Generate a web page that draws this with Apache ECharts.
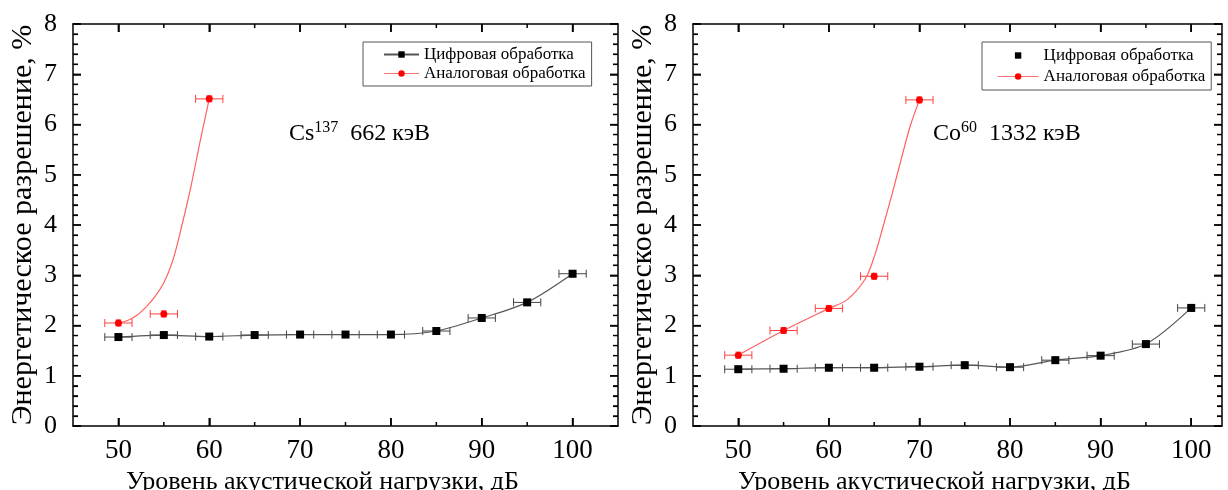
<!DOCTYPE html>
<html>
<head>
<meta charset="utf-8">
<script src="https://cdn.jsdelivr.net/npm/echarts@6/dist/echarts.min.js"></script>
<style>
  html, body { margin: 0; padding: 0; background: #fff; }
  #chart { width: 1228px; height: 490px; background: #fff; }
</style>
</head>
<body>
<div id="chart"></div>
<script>
// уровни акустической нагрузки, дБ
var levels = [50, 55, 60, 65, 70, 75, 80, 85, 90, 95, 100];
var xLabels = [50, 60, 70, 80, 90, 100];
var xMinor = [55, 65, 75, 85, 95];
var yMajor = [0, 1, 2, 3, 4, 5, 6, 7, 8];

// Cs137, 662 кэВ
var csDigital = [1.77, 1.81, 1.78, 1.81, 1.82, 1.82, 1.82, 1.89, 2.15, 2.46, 3.03];
var csAnalogX = [50, 55, 60];
var csAnalog = [2.05, 2.23, 6.51];
// кривая аппроксимации
var csFitX = [50, 51, 52, 53, 54, 55, 56, 57, 58, 59, 60];
var csFit = [2.05, 2.1, 2.2, 2.36, 2.57, 2.85, 3.3, 4.0, 4.78, 5.67, 6.51];

// Co60, 1332 кэВ
var coDigital = [1.13, 1.14, 1.16, 1.16, 1.18, 1.21, 1.17, 1.31, 1.40, 1.63, 2.35];
var coAnalogX = [50, 55, 60, 65, 70];
var coAnalog = [1.41, 1.90, 2.34, 2.98, 6.49];
var coFitX = [50, 55, 60, 62, 64, 65, 66, 67, 68, 69, 70];
var coFit = [1.41, 1.90, 2.34, 2.51, 2.92, 3.36, 3.98, 4.63, 5.32, 5.98, 6.49];

var X_ERR = 1.5;
var Y_ERR = 0.06;
var X_MIN = 45;
var X_MAX = [105, 103.4];

var FONT = '"Liberation Serif", "DejaVu Serif", serif';
var NAME_DIG = 'Цифровая обработка';
var NAME_ANA = 'Аналоговая обработка';

function pairs(xs, ys) {
    return xs.map(function (x, i) { return [x, ys[i]]; });
}

var chart = echarts.init(document.getElementById('chart'));

function xAxisFor(grid, pos) {
    var main = pos === 'bottom';
    return {
        type: 'value', gridIndex: grid, position: pos, min: X_MIN, max: X_MAX[grid],
        axisLine: { show: true, onZero: false, lineStyle: { color: '#000', width: 1.5 } },
        axisTick: { show: true, inside: true, length: 8, customValues: xLabels,
                    lineStyle: { color: '#000', width: 1.5 } },
        axisLabel: { show: main, customValues: xLabels, fontSize: 27, fontFamily: FONT,
                     color: '#000', margin: 11 },
        splitLine: { show: false },
        name: main ? 'Уровень акустической нагрузки, дБ' : '',
        nameLocation: 'middle', nameGap: 35,
        nameTextStyle: { fontSize: 26, fontFamily: FONT, color: '#000', padding: [0, 46, 0, 0] }
    };
}

function yAxisFor(grid, pos) {
    var main = pos === 'left';
    return {
        type: 'value', gridIndex: grid, position: pos, min: 0, max: 8, interval: 1,
        axisLine: { show: true, onZero: false, lineStyle: { color: '#000', width: 1.5 } },
        axisTick: { show: true, inside: true, length: 8, lineStyle: { color: '#000', width: 1.5 } },
        minorTick: { show: true, splitNumber: 5, length: 5, lineStyle: { color: '#000', width: 1.2 } },
        axisLabel: { show: main, fontSize: 26, fontFamily: FONT, color: '#000', margin: 16 },
        splitLine: { show: false },
        name: main ? 'Энергетическое разрешение, %' : '',
        nameLocation: 'middle', nameGap: 35,
        nameTextStyle: { fontSize: 30, fontFamily: FONT, color: '#000' }
    };
}

// засечки внутрь рамки (дублируют засечки осей)
function xTickSeries(gi) {
    return {
        type: 'custom', xAxisIndex: gi, yAxisIndex: gi, silent: true,
        encode: { x: 0, y: 1 },
        data: xLabels.concat(xMinor).map(function (v) { return [v, 4]; }),
        renderItem: function (params, api) {
            var x = api.value(0);
            var len = x % 10 === 0 ? 8 : 4;
            var b = api.coord([x, 0]);
            var t = api.coord([x, 8]);
            var st = { stroke: '#000', lineWidth: 1.5 };
            return {
                type: 'group',
                children: [
                    { type: 'line', shape: { x1: b[0], y1: b[1], x2: b[0], y2: b[1] - len }, style: st },
                    { type: 'line', shape: { x1: t[0], y1: t[1], x2: t[0], y2: t[1] + len }, style: st }
                ]
            };
        }
    };
}

function yTickSeries(gi) {
    return {
        type: 'custom', xAxisIndex: gi, yAxisIndex: gi, silent: true,
        encode: { x: 0, y: 1 },
        data: yMajor.map(function (v) { return [75, v]; }),
        renderItem: function (params, api) {
            var v = api.value(1);
            var st = { stroke: '#000', lineWidth: 1.3 };
            var children = [];
            function add(val, len) {
                var l = api.coord([X_MIN, val]);
                var r = api.coord([X_MAX[gi], val]);
                children.push({ type: 'line', shape: { x1: l[0], y1: l[1], x2: l[0] + len, y2: l[1] }, style: st });
                children.push({ type: 'line', shape: { x1: r[0], y1: r[1], x2: r[0] - len, y2: r[1] }, style: st });
            }
            add(v, 8);
            if (v < 8) {
                for (var k = 1; k < 5; k++) add(v + k * 0.2, 5);
            }
            return { type: 'group', children: children };
        }
    };
}

function errorBars(color) {
    return function (params, api) {
        var x = api.value(0), y = api.value(1);
        var l = api.coord([x - X_ERR, y]);
        var r = api.coord([x + X_ERR, y]);
        var b = api.coord([x, y - Y_ERR]);
        var t = api.coord([x, y + Y_ERR]);
        var st = { stroke: color, lineWidth: 1 };
        return {
            type: 'group',
            children: [
                { type: 'line', shape: { x1: l[0], y1: l[1], x2: r[0], y2: r[1] }, style: st },
                { type: 'line', shape: { x1: l[0], y1: l[1] - 4, x2: l[0], y2: l[1] + 4 }, style: st },
                { type: 'line', shape: { x1: r[0], y1: r[1] - 4, x2: r[0], y2: r[1] + 4 }, style: st },
                { type: 'line', shape: { x1: b[0], y1: b[1], x2: t[0], y2: t[1] }, style: st },
                { type: 'line', shape: { x1: b[0] - 3, y1: b[1], x2: b[0] + 3, y2: b[1] }, style: st },
                { type: 'line', shape: { x1: t[0] - 3, y1: t[1], x2: t[0] + 3, y2: t[1] }, style: st }
            ]
        };
    };
}

function errSeries(gi, data, color) {
    return {
        type: 'custom', xAxisIndex: gi, yAxisIndex: gi, encode: { x: 0, y: 1 },
        renderItem: errorBars(color), data: data, silent: true
    };
}

var legendBase = {
    orient: 'vertical', top: 42, borderColor: '#555', borderWidth: 1,
    itemWidth: 35, itemHeight: 8, itemGap: 2,
    textStyle: { fontSize: 17, fontFamily: FONT, color: '#000' }
};

var richNote = {
    b: { fontSize: 24, fontFamily: FONT, fill: '#000', lineHeight: 26, verticalAlign: 'bottom' },
    s: { fontSize: 16, fontFamily: FONT, fill: '#000', lineHeight: 26, verticalAlign: 'top' }
};

var option = {
    animation: false,
    grid: [
        { left: 73, top: 24, width: 545, height: 402, outerBoundsMode: 'none' },
        { left: 693, top: 24, width: 529, height: 402, outerBoundsMode: 'none' }
    ],
    xAxis: [xAxisFor(0, 'bottom'), xAxisFor(1, 'bottom'), xAxisFor(0, 'top'), xAxisFor(1, 'top')],
    yAxis: [yAxisFor(0, 'left'), yAxisFor(1, 'left'), yAxisFor(0, 'right'), yAxisFor(1, 'right')],
    legend: [
        Object.assign({}, legendBase, {
            left: 363, padding: [4, 6, 4, 20],
            data: [
                { name: NAME_DIG },
                { name: NAME_ANA, lineStyle: { color: '#ff7070', width: 1.2, opacity: 1 } }
            ]
        }),
        Object.assign({}, legendBase, {
            left: 982, padding: [5, 6, 5, 15], itemGap: 4, itemWidth: 41,
            data: [
                { name: NAME_DIG, lineStyle: { opacity: 0, width: 0 } },
                { name: NAME_ANA, lineStyle: { color: '#ff7070', width: 1.2, opacity: 1 } }
            ]
        })
    ],
    graphic: [
        { type: 'text', left: 289, top: 120, style: { text: '{b|Cs}{s|137}{b|  662 кэВ}', rich: richNote } },
        { type: 'text', left: 933, top: 120, style: { text: '{b|Co}{s|60}{b|  1332 кэВ}', rich: richNote } }
    ],
    series: [
        // Cs137
        {
            name: NAME_DIG, type: 'line', xAxisIndex: 0, yAxisIndex: 0,
            data: pairs(levels, csDigital), smooth: 0.3,
            symbol: 'rect', symbolSize: 8, itemStyle: { color: '#000' },
            lineStyle: { color: '#555', width: 1.2 }
        },
        {
            name: NAME_ANA, type: 'line', xAxisIndex: 0, yAxisIndex: 0,
            data: pairs(csAnalogX, csAnalog),
            symbol: 'circle', symbolSize: 7, itemStyle: { color: '#ff0000' },
            lineStyle: { width: 0, opacity: 0 }
        },
        {
            name: 'fit-cs', type: 'line', xAxisIndex: 0, yAxisIndex: 0,
            data: pairs(csFitX, csFit), smooth: 0.3, showSymbol: false,
            lineStyle: { color: '#ff6060', width: 1.2 }
        },
        errSeries(0, pairs(levels, csDigital), '#444'),
        errSeries(0, pairs(csAnalogX, csAnalog), '#ff4040'),
        // Co60
        {
            name: NAME_DIG, type: 'line', xAxisIndex: 1, yAxisIndex: 1,
            data: pairs(levels, coDigital), smooth: 0.3,
            symbol: 'rect', symbolSize: 8, itemStyle: { color: '#000' },
            lineStyle: { color: '#555', width: 1.2 }
        },
        {
            name: NAME_ANA, type: 'line', xAxisIndex: 1, yAxisIndex: 1,
            data: pairs(coAnalogX, coAnalog),
            symbol: 'circle', symbolSize: 7, itemStyle: { color: '#ff0000' },
            lineStyle: { width: 0, opacity: 0 }
        },
        {
            name: 'fit-co', type: 'line', xAxisIndex: 1, yAxisIndex: 1,
            data: pairs(coFitX, coFit), smooth: 0.3, showSymbol: false,
            lineStyle: { color: '#ff6060', width: 1.2 }
        },
        errSeries(1, pairs(levels, coDigital), '#444'),
        errSeries(1, pairs(coAnalogX, coAnalog), '#ff4040'),
        // засечки рамки
        xTickSeries(0), yTickSeries(0), xTickSeries(1), yTickSeries(1)
    ]
};
chart.setOption(option);
</script>
</body>
</html>
